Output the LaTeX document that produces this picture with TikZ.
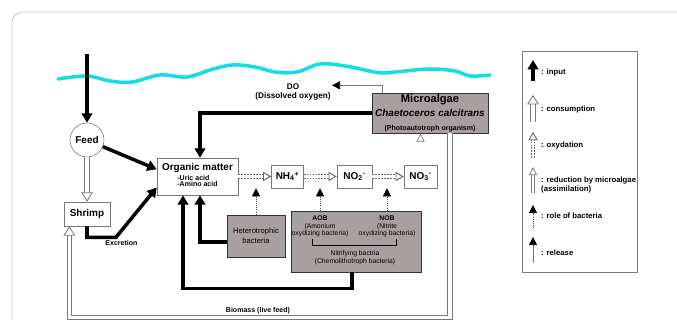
\documentclass[tikz,border=0pt]{standalone}
\usepackage{fontspec}
\setmainfont{Liberation Sans}
\usetikzlibrary{positioning,arrows.meta}
\definecolor{waterColor}{RGB}{20,222,228}
\definecolor{bacteriaColor}{RGB}{168,160,160}
\definecolor{frameColor}{RGB}{200,200,200}
\definecolor{lineGray}{RGB}{120,120,120}
\newcommand{\px}{.03cm}
\newcommand{\titleFont}{\fontsize{8.5}{10.5}\selectfont\bfseries}
\newcommand{\noteFont}{\fontsize{6}{7}\selectfont\bfseries}
\newcommand{\labelFont}{\fontsize{5.8}{6.6}\selectfont}
\tikzstyle{pond} = [x = \px, y = -\px]
\tikzstyle{water} = [color=waterColor, line width=3pt, line cap=round]
\tikzstyle{whiteBox} = [draw=lineGray, fill=white, line width=.5pt, inner sep=0pt, align=center]
\tikzstyle{grayBox} = [draw=black!80, fill=bacteriaColor, line width=.7pt, inner sep=0pt, align=center]
\tikzstyle{feedCircle} = [circle, draw=lineGray, fill=white, line width=.5pt, minimum size=34*\px, inner sep=0pt, font=\titleFont]
\tikzstyle{noteText} = [font=\noteFont, inner sep=1pt, align=center]
\tikzstyle{labelText} = [font=\labelFont, inner sep=1pt, align=center]
\tikzstyle{legendText} = [font=\fontsize{6.6}{7.8}\selectfont\bfseries, inner sep=0pt, anchor=west, align=left]
\tikzstyle{inputArrow} = [line width=3pt, -{Triangle[length=8pt, width=9pt]}]
\tikzstyle{consumption} = [draw=lineGray, line width=.7pt, double=white, double distance=3pt, -{Triangle[open, length=8pt, width=10pt, fill=white]}]
\tikzstyle{oxidation} = [draw=black!60, line width=.8pt, double=white, double distance=2.4pt, dash pattern=on 1.5pt off 1pt, -{Triangle[open, length=7pt, width=8pt, fill=white]}]
\tikzstyle{reduction} = [draw=lineGray, line width=.6pt, double=white, double distance=1.8pt, -{Triangle[open, length=7pt, width=7pt, fill=white]}]
\tikzstyle{roleArrow} = [draw=black!70, densely dotted, line width=.8pt, -{Triangle[length=7pt, width=7pt, black]}]
\tikzstyle{releaseArrow} = [draw=lineGray, line width=.8pt, -{Triangle[length=7pt, width=7pt, black]}]
\newcommand{\legendItem}[6]{
  \draw [#1] (533,#2) -- (533,#3);
  \node [legendText] (#4) at (541,#5) {#6};
}

\begin{document}
\begin{tikzpicture}[pond]
\useasboundingbox (0,0) rectangle (677,320);
\clip (0,0) rectangle (677,320);
\draw [frameColor, line width=.8pt, rounded corners=.3cm] (12,12) rectangle (720,360);
% water surface
\draw [water] plot [smooth, tension=.6] coordinates {(58,79) (87,76) (110,81) (132,82) (160,75) (187,77) (210,70) (232,65) (255,67) (275,72) (297,72) (320,64) (345,66) (365,70) (382,73) (405,71) (430,69) (455,71) (470,76) (490,75)};
% boxes
\coordinate (feedIn) at (87,54);
\node [feedCircle] (feed) at (87,140) {Feed};
\node [whiteBox, font=\titleFont, minimum width=46*\px, minimum height=24*\px] (shrimp) at (87,214) {Shrimp};
\node [whiteBox, minimum width=81*\px, minimum height=37*\px] (om) at (197.5,176.5) {{\titleFont Organic matter}\\[-1pt]{\noteFont\begin{tabular}{@{}l@{}}-Uric acid\\[-1.5pt]-Amino acid\end{tabular}}};
\node [whiteBox, font=\titleFont, minimum width=32*\px, minimum height=23*\px] (nh4) at (287.5,176.5) {NH\textsubscript{4}\textsuperscript{+}};
\node [whiteBox, font=\titleFont, minimum width=35*\px, minimum height=23*\px] (no2) at (354.5,176.5) {NO\textsubscript{2}\textsuperscript{-}};
\node [whiteBox, font=\titleFont, minimum width=33*\px, minimum height=23*\px] (no3) at (420.5,176.5) {NO\textsubscript{3}\textsuperscript{-}};
\node [grayBox, minimum width=116*\px, minimum height=40*\px] (algae) at (430,113) {{\fontsize{9.5}{11}\selectfont\bfseries Microalgae}\\{\titleFont\itshape Chaetoceros calcitrans}\\{\noteFont (Photoautotroph organism)}};
\node [grayBox, font=\fontsize{6.5}{8.5}\selectfont, minimum width=58*\px, minimum height=42*\px] (hetero) at (256,236) {Heterotrophic\\bacteria};
\node [grayBox, minimum width=130*\px, minimum height=61*\px] (nitri) at (356,241.5) {};
\node [labelText] (aob) at (320,226.5) {\textbf{AOB}\\(Amonium\\oxydizing bacteria)};
\node [labelText] (nob) at (387,226.5) {\textbf{NOB}\\(Nitrite\\oxydizing bacteria)};
\node [labelText] (nitriName) at (355,258) {Nitrifying bactria\\(Chemolithotroph bacteria)};
\draw [line width=.7pt] (312,239) |- (396,245) -- (396,239);
\node [noteText, font=\fontsize{7}{8.5}\selectfont\bfseries] (do) at (293,92) {DO\\(Dissolved oxygen)};
\node [noteText, anchor=west] (excretion) at (104,243) {Excretion};
\node [noteText] (biomass) at (258,311) {Biomass (live feed)};
% flows
\draw [inputArrow] (feedIn) -- (feed);
\draw [inputArrow] (feed) -- (om.170);
\draw [consumption] (feed) -- (shrimp);
\draw [inputArrow] (shrimp.south) -- ++(0,11) -- ++(29,0) -- (om.195);
\draw [inputArrow] (algae.west) -| ([xshift=.075cm]om.north);
\draw [inputArrow] ([yshift=-.18cm]hetero.west) -| ([xshift=.075cm]om.south);
\draw [inputArrow] ([xshift=-.12cm]nitri.south) -- ++(0,16) -| ([xshift=-.435cm]om.south);
\draw [releaseArrow] ([xshift=.33cm]algae.north west) |- ([yshift=.2cm]do.east);
\draw [oxidation] (om) -- (nh4);
\draw [oxidation] (nh4) -- (no2);
\draw [oxidation] (no2) -- (no3);
\draw [reduction] (no3) -- (no3 |- algae.south);
\draw [roleArrow] (hetero) -- (hetero |- nh4.south);
\draw [roleArrow] (aob |- nitri.north) -- (aob |- nh4.south);
\draw [roleArrow] (nob |- nitri.north) -- (nob |- nh4.south);
\draw [consumption] ([xshift=.6cm]algae.south) -- ++(0,184) -| ([xshift=.17cm]shrimp.south west);
% legend
\draw [lineGray, line width=.8pt] (522,51) rectangle (637,272);
\legendItem{inputArrow}{81}{60}{legInput}{73}{: input}
\legendItem{consumption}{122}{95}{legConsumption}{110}{: consumption}
\legendItem{oxidation}{158}{132}{legOxidation}{146}{: oxydation}
\legendItem{reduction}{193}{167}{legReduction}{185}{: reduction by microalgae\\(assimilation)}
\legendItem{roleArrow}{228}{205}{legRole}{216}{: role of bacteria}
\legendItem{releaseArrow}{263}{237}{legRelease}{253}{: release}
\end{tikzpicture}
\end{document}
